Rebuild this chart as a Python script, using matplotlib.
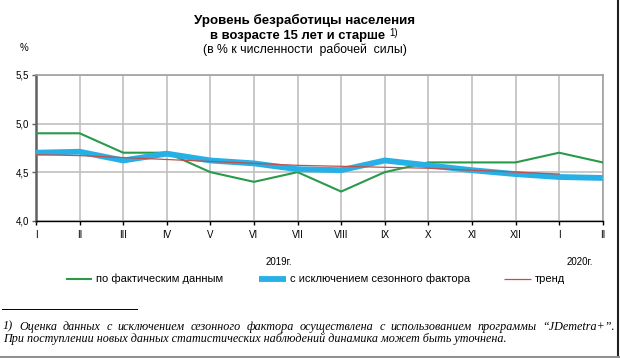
import matplotlib
matplotlib.use("Agg")
import matplotlib.pyplot as plt
from matplotlib.lines import Line2D

plt.rcParams['font.family'] = ['Liberation Sans', 'DejaVu Sans']

months = ["I", "II", "III", "IV", "V", "VI", "VII", "VIII", "IX", "X", "XI", "XII", "I", "II"]
actual = [4.9, 4.9, 4.7, 4.7, 4.5, 4.4, 4.5, 4.3, 4.5, 4.6, 4.6, 4.6, 4.7, 4.6]
seas_adj = [4.70, 4.71, 4.62, 4.69, 4.62, 4.59, 4.53, 4.52, 4.62, 4.57, 4.52, 4.48, 4.45, 4.44]
trend = [4.68, 4.67, 4.65, 4.63, 4.61, 4.59, 4.57, 4.56, 4.55, 4.54, 4.52, 4.50, 4.48]
yticks = [4.0, 4.5, 5.0, 5.5]
ytick_labels = ["4,0", "4,5", "5,0", "5,5"]

GREEN, BLUE, RED = "#2a9a4a", "#27b0e6", "#c0504d"

W, H = 620, 358
fig = plt.figure(figsize=(W / 100, H / 100), dpi=100)
ax = fig.add_axes([36 / W, 1 - 220.7 / H, (602.7 - 36) / W, (220.7 - 75) / H])

x = list(range(len(months)))
ax.plot(x, actual, color=GREEN, lw=1.5, zorder=3)
ax.plot(x, seas_adj, color=BLUE, lw=4.2, zorder=4, solid_capstyle="butt")
ax.plot(x[:len(trend)], trend, color=RED, lw=0.9, zorder=5)

ax.set_xlim(0, len(months) - 1)
ax.set_ylim(4.0, 5.5)
ax.set_xticks(x)
ax.set_xticklabels(months, fontsize=7)
ax.set_yticks(yticks)
ax.set_yticklabels(ytick_labels, fontsize=7)
ax.grid(True, color="#c0c0c0", lw=1.2)
ax.set_axisbelow(True)
for s in ["top", "right"]:
    ax.spines[s].set_color("#a0a0a0")
    ax.spines[s].set_linewidth(1.2)
ax.spines["left"].set_color("#606060")
ax.spines["left"].set_linewidth(1.8)
ax.spines["bottom"].set_color("black")
ax.spines["bottom"].set_linewidth(1.0)
ax.tick_params(axis="x", length=3, width=1, pad=4, color="black")
ax.tick_params(axis="y", length=3, width=1, pad=2, color="#606060")

# titles
fig.text(305 / W, 1 - 20.5 / H, "Уровень безработицы населения", ha="center", va="center",
         fontsize=9.6, fontweight="bold")
fig.text(298 / W, 1 - 35.5 / H, "в возрасте 15 лет и старше", ha="center", va="center",
         fontsize=9.4, fontweight="bold")
fig.text(389 / W, 1 - 33 / H, "1)", ha="left", va="center", fontsize=7)
fig.text(305 / W, 1 - 50 / H, "(в % к численности  рабочей  силы)", ha="center", va="center",
         fontsize=8.8)
fig.text(23.5 / W, 1 - 47.7 / H, "%", ha="center", va="center", fontsize=7)

fig.text(279 / W, 1 - 262 / H, "2019г.", ha="center", va="center", fontsize=7)
fig.text(580 / W, 1 - 262 / H, "2020г.", ha="center", va="center", fontsize=7)

# legend drawn as three entries
entries = [(66, 92, GREEN, 1.5, "по фактическим данным"),
           (259, 286, BLUE, 4.2, "с исключением сезонного фактора"),
           (504, 531, RED, 0.9, "тренд")]
ly = 1 - 279 / H
for a, b, c, lw, lab in entries:
    fig.add_artist(Line2D([a / W, b / W], [ly, ly], color=c, lw=lw, solid_capstyle="butt"))
    fig.text((b + 4) / W, ly, lab, ha="left", va="center", fontsize=8)

# footnote separator
fig.add_artist(Line2D([2 / W, 137 / W], [1 - 309.3 / H, 1 - 309.3 / H], color="black", lw=0.7))

# footnote, first line justified
note1 = "1) Оценка данных с исключением сезонного фактора осуществлена с использованием программы \u201cJDemetra+\u201d."
note2 = "При поступлении новых данных статистических наблюдений динамика может быть уточнена."
fs = dict(fontsize=8.7, style="italic", family="Liberation Serif", va="center")
fig.canvas.draw()
r = fig.canvas.get_renderer()
words = note1.split(" ")
tmp = [fig.text(0, 0, w, **fs) for w in words]
widths = [t.get_window_extent(r).width for t in tmp]
for t in tmp:
    t.remove()
x0, x1 = 3, 615
gap = (x1 - x0 - sum(widths)) / (len(words) - 1)
pos = x0
for w, wd in zip(words, widths):
    fig.text(pos / W, 1 - 326.7 / H, w, ha="left", **fs)
    pos += wd + gap
fig.text(3 / W, 1 - 339 / H, note2, ha="left", **fs)

# outer frame on right and bottom
fig.add_artist(Line2D([1 - 2 / W, 1 - 2 / W], [0, 1], color="#202020", lw=1.5))
fig.add_artist(Line2D([0, 1], [1.5 / H, 1.5 / H], color="#909090", lw=1.5))

fig.savefig("out.png", dpi=100)
